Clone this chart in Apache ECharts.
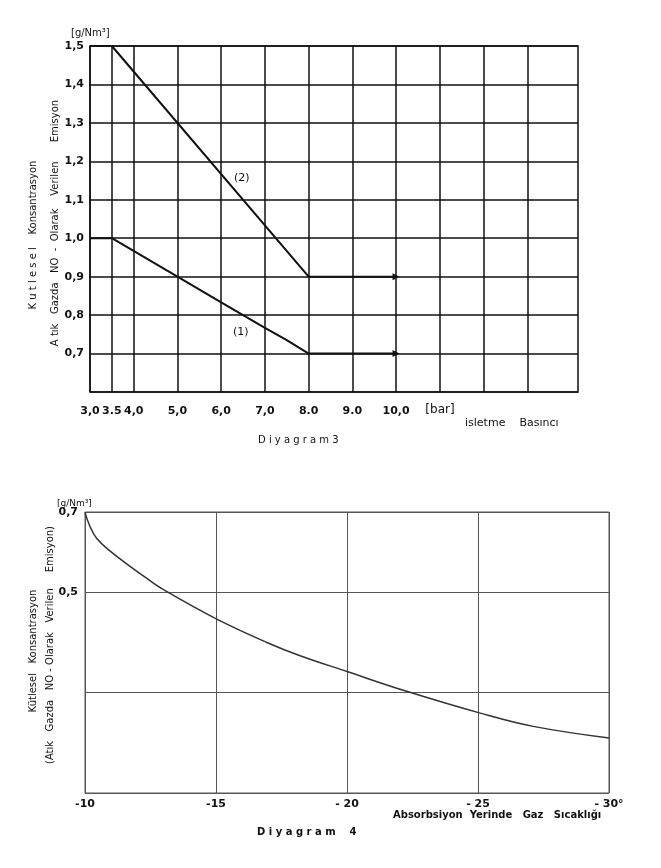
<!DOCTYPE html>
<html>
<head>
<meta charset="utf-8">
<script src="https://cdn.jsdelivr.net/npm/echarts@6/dist/echarts.min.js"></script>
<style>
  html, body { margin: 0; padding: 0; background: #fff; }
  #main { width: 661px; height: 868px; }
</style>
</head>
<body>
<div id="main"></div>
<script>
// Diyagram 3 - isletme basinci
const xTicks3 = [3, 3.5, 4, 5, 6, 7, 8, 9, 10, 11, 12, 13]
const xLabels3 = ['3,0', '3.5', '4,0', '5,0', '6,0', '7,0', '8.0', '9.0', '10,0', '', '', '']
const yTicks3 = [0.6, 0.7, 0.8, 0.9, 1.0, 1.1, 1.2, 1.3, 1.4, 1.5]
const yLabels3 = ['', '0,7', '0,8', '0,9', '1,0', '1,1', '1,2', '1,3', '1,4', '1,5']
const line1X = [3.0, 3.5, 5.0, 6.0, 6.5, 7.0, 7.5, 8.0, 10.0]
const line1Y = [1.0, 1.0, 0.9, 0.833, 0.8, 0.767, 0.735, 0.7, 0.7]
const line2X = [3.0, 3.5, 8.0, 10.0]
const line2Y = [1.5, 1.5, 0.9, 0.9]

// Diyagram 4 - gaz sicakligi
const xTicks4 = [-10, -15, -20, -25, -30]
const xLabels4 = ['-10', '-15', '- 20', '- 25', '- 30°']
const yTicks4 = [0, 0.25, 0.5, 0.7]
const yLabels4 = ['', '', '0,5', '0,7']
const tempX = [-10, -10.19, -10.45, -10.95, -11.59, -12.35, -12.98, -15.03, -16.94, -18.21, -20.03, -22.15, -25.09, -27.11, -30]
const emisY = [0.699, 0.664, 0.634, 0.603, 0.571, 0.535, 0.507, 0.433, 0.375, 0.342, 0.302, 0.256, 0.199, 0.166, 0.137]

const FONT = 'DejaVu Sans'
const pairs = (xs, ys) => xs.map((x, i) => [x, ys[i]])
const endArrow = (n) => (v, p) => (p.dataIndex === n - 1 ? 'triangle' : 'none')

var myChart = echarts.init(document.getElementById('main'))
let option = {
  animation: false,
  backgroundColor: '#fff',
  grid: [
    { left: 90, top: 46, width: 488, height: 346, show: true, borderColor: '#111', borderWidth: 1.5 },
    { left: 85, top: 512, width: 524, height: 281, show: true, borderColor: '#555', borderWidth: 1 }
  ],
  xAxis: [
    {
      gridIndex: 0,
      type: 'value',
      min: 3,
      max: 14.16,
      axisLine: { show: false },
      axisTick: { show: false, customValues: xTicks3 },
      splitLine: { show: true, lineStyle: { color: '#111', width: 1.5 } },
      axisLabel: {
        customValues: xTicks3,
        margin: 14,
        color: '#111',
        fontFamily: FONT,
        fontSize: 11,
        fontWeight: 'bold',
        formatter: (v) => xLabels3[xTicks3.indexOf(v)] || ''
      }
    },
    {
      gridIndex: 1,
      type: 'value',
      min: -30,
      max: -10,
      inverse: true,
      axisLine: { show: false },
      axisTick: { show: false, customValues: xTicks4 },
      splitLine: { show: true, lineStyle: { color: '#555', width: 1 } },
      axisLabel: {
        customValues: xTicks4,
        margin: 6,
        color: '#111',
        fontFamily: FONT,
        fontSize: 11,
        fontWeight: 'bold',
        formatter: (v) => xLabels4[xTicks4.indexOf(v)] || ''
      }
    }
  ],
  yAxis: [
    {
      gridIndex: 0,
      type: 'value',
      min: 0.6,
      max: 1.5,
      axisLine: { show: false },
      axisTick: { show: false, customValues: yTicks3 },
      splitLine: { show: true, lineStyle: { color: '#111', width: 1.5 } },
      axisLabel: {
        customValues: yTicks3,
        margin: 6,
        color: '#111',
        fontFamily: FONT,
        fontSize: 11,
        fontWeight: 'bold',
        formatter: (v) => yLabels3[yTicks3.indexOf(v)] || ''
      }
    },
    {
      gridIndex: 1,
      type: 'value',
      min: 0,
      max: 0.7,
      axisLine: { show: false },
      axisTick: { show: false, customValues: yTicks4 },
      splitLine: { show: true, lineStyle: { color: '#555', width: 1 } },
      axisLabel: {
        customValues: yTicks4,
        margin: 7,
        color: '#111',
        fontFamily: FONT,
        fontSize: 11,
        fontWeight: 'bold',
        formatter: (v) => yLabels4[yTicks4.indexOf(v)] || ''
      }
    }
  ],
  series: [
    {
      name: '(1)',
      type: 'line',
      xAxisIndex: 0,
      yAxisIndex: 0,
      data: pairs(line1X, line1Y),
      showSymbol: true,
      symbol: endArrow(line1X.length),
      symbolSize: 7,
      symbolRotate: -90,
      itemStyle: { color: '#111' },
      lineStyle: { color: '#111', width: 2 },
      markPoint: {
        symbol: 'circle',
        symbolSize: 0,
        data: [{ coord: [6.45, 0.757] }],
        label: { show: true, formatter: '(1)', position: 'inside', color: '#111', fontFamily: FONT, fontSize: 11 }
      }
    },
    {
      name: '(2)',
      type: 'line',
      xAxisIndex: 0,
      yAxisIndex: 0,
      data: pairs(line2X, line2Y),
      showSymbol: true,
      symbol: endArrow(line2X.length),
      symbolSize: 7,
      symbolRotate: -90,
      itemStyle: { color: '#111' },
      lineStyle: { color: '#111', width: 2 },
      markPoint: {
        symbol: 'circle',
        symbolSize: 0,
        data: [{ coord: [6.47, 1.157] }],
        label: { show: true, formatter: '(2)', position: 'inside', color: '#111', fontFamily: FONT, fontSize: 11 }
      }
    },
    {
      name: 'emisyon',
      type: 'line',
      xAxisIndex: 1,
      yAxisIndex: 1,
      data: pairs(tempX, emisY),
      smooth: 0.4,
      showSymbol: false,
      lineStyle: { color: '#333', width: 1.5 }
    }
  ],
  graphic: [
    // ust diyagram yazilari
    { type: 'text', x: 71, y: 33, style: { text: '[g/Nm³]', fill: '#111', font: '10px ' + FONT, textVerticalAlign: 'middle' } },
    { type: 'text', x: 33, y: 235, rotation: Math.PI / 2, style: { text: 'K u t l e s e l    Konsantrasyon', fill: '#111', font: '10px ' + FONT, textAlign: 'center', textVerticalAlign: 'middle' } },
    { type: 'text', x: 55, y: 223, rotation: Math.PI / 2, style: { text: 'A tık   Gazda   NO  -  Olarak    Verilen      Emisyon', fill: '#111', font: '10px ' + FONT, textAlign: 'center', textVerticalAlign: 'middle' } },
    { type: 'text', x: 440, y: 410, style: { text: '[bar]', fill: '#111', font: '12px ' + FONT, textAlign: 'center', textVerticalAlign: 'middle' } },
    { type: 'text', x: 465, y: 423, style: { text: 'isletme    Basıncı', fill: '#111', font: '11px ' + FONT, textVerticalAlign: 'middle' } },
    { type: 'text', x: 258, y: 440, style: { text: 'D i y a g r a m 3', fill: '#111', font: '10px ' + FONT, textVerticalAlign: 'middle' } },
    // alt diyagram yazilari
    { type: 'text', x: 57, y: 504, style: { text: '[g/Nm³]', fill: '#111', font: '9px ' + FONT, textVerticalAlign: 'middle' } },
    { type: 'text', x: 33, y: 651, rotation: Math.PI / 2, style: { text: 'Kütlesel   Konsantrasyon', fill: '#111', font: '10px ' + FONT, textAlign: 'center', textVerticalAlign: 'middle' } },
    { type: 'text', x: 50, y: 645, rotation: Math.PI / 2, style: { text: '(Atık   Gazda   NO - Olarak   Verilen     Emisyon)', fill: '#111', font: '10px ' + FONT, textAlign: 'center', textVerticalAlign: 'middle' } },
    { type: 'text', x: 393, y: 815, style: { text: 'Absorbsiyon  Yerinde   Gaz   Sıcaklığı', fill: '#111', font: 'bold 10px ' + FONT, textVerticalAlign: 'middle' } },
    { type: 'text', x: 257, y: 832, style: { text: 'D i y a g r a m    4', fill: '#111', font: 'bold 10px ' + FONT, textVerticalAlign: 'middle' } }
  ]
}
myChart.setOption(option)
</script>
</body>
</html>
